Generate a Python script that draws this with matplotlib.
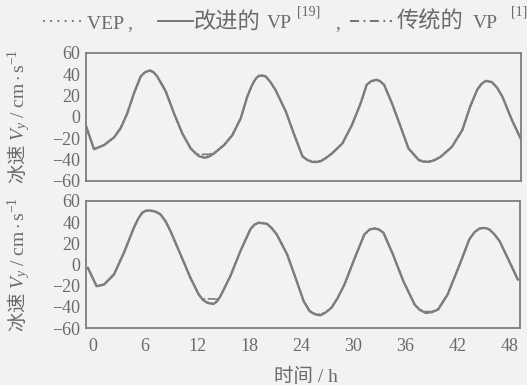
import matplotlib
matplotlib.use('Agg')
import matplotlib.pyplot as plt
from matplotlib.lines import Line2D

# fonts: serif for latin, CJK fallback for chinese
plt.rcParams['font.family'] = ['Liberation Serif', 'Noto Sans CJK SC']
plt.rcParams['mathtext.fontset'] = 'custom'
plt.rcParams['mathtext.rm'] = 'Liberation Serif'
plt.rcParams['mathtext.it'] = 'Liberation Serif:italic'
plt.rcParams['mathtext.bf'] = 'Liberation Serif:bold'

# time axis ticks (h)
x_ticks = [0, 6, 12, 18, 24, 30, 36, 42, 48]
y_ticks = [-60, -40, -20, 0, 20, 40, 60]

# upper panel
t_top = [-0.84, 0.12, 1.27, 2.42, 3.18, 3.95, 4.72, 5.49, 6.0, 6.56,
         7.0, 7.4, 8.37, 9.32, 10.28, 11.24, 11.8, 12.2, 12.85, 13.4,
         13.93, 15.08, 16.04, 17.0, 17.76, 18.2, 18.53, 18.8, 19.1, 19.5,
         19.88, 20.4, 21.0, 22.2, 23.1, 24.1, 24.6, 25.2, 25.7, 26.2,
         26.8, 27.5, 28.7, 29.8, 30.8, 31.5, 32.0, 32.6, 33.0, 33.5,
         34.4, 35.4, 36.3, 37.5, 38.0, 38.6, 39.3, 40.0, 41.3, 42.5,
         43.4, 44.2, 44.7, 45.2, 45.9, 46.5, 47.1, 48.2, 49.2]
top_vp_new = [-7.5, -30.2, -26.4, -19.2, -10.7, 3.5, 22.3, 38, 42, 43.7,
              41.8, 38, 23.9, 3.5, -15.4, -29.5, -34, -36.8, -38.3, -37,
              -34.2, -26.4, -17, -1.3, 19.2, 28, 33.3, 36.5, 38.6, 38.8,
              38, 33, 25.4, 5, -15.4, -36.8, -40, -42.1, -42.2, -41.5,
              -38.5, -34.2, -24.8, -7.5, 12.9, 30.2, 33.5, 34.9, 33.8, 30.2,
              12.9, -9.1, -29.5, -40.5, -41.8, -42.1, -40.5, -37.4, -28, -12.3,
              9.7, 25.4, 31, 33.9, 32.7, 27.5, 19.2, -2.8, -20]
top_vep = [-7.5, -30.0, -26.0, -19.0, -10.5, 3.5, 22.0, 37.5, 42, 43.5,
           41.5, 38, 24.5, 3.5, -15.0, -29.0, -33.5, -36.0, -37.5, -36.5,
           -34.0, -26.0, -16.5, -1.0, 19.0, 28, 33.0, 36.5, 38.5, 38.8,
           38, 33, 25.0, 5, -15.0, -36.5, -39.5, -41.5, -41.8, -41.0,
           -38.0, -34.0, -24.5, -7.5, 12.5, 30.0, 33.5, 34.5, 33.5, 30.0,
           12.5, -9.0, -29.0, -40.0, -41.5, -41.5, -40.0, -37.0, -27.5, -12.0,
           9.5, 25.0, 31, 33.5, 32.5, 27.5, 19.0, -2.5, -20]
top_vp_old = [-7.5, -30.2, -26.4, -19.0, -10.0, 3.5, 22.3, 38, 42, 43.7,
              41.8, 38, 25.0, 3.5, -15.4, -29.5, -34, -35, -35, -35,
              -33.5, -26.4, -17, -1.3, 19.2, 28, 33.3, 36.5, 38.6, 38.8,
              38, 33, 25.4, 5, -15.4, -36.8, -40, -42.1, -42.2, -41.5,
              -38.5, -34.2, -24.8, -7.5, 12.9, 30.2, 33.5, 34.9, 33.8, 30.2,
              12.9, -9.1, -29.5, -40.5, -41.8, -42.1, -40.5, -37.4, -28, -12.3,
              9.7, 25.4, 31, 33.9, 32.7, 27.5, 19.2, -2.8, -20]

# lower panel
t_bot = [-0.58, 0.42, 1.27, 2.42, 3.57, 4.72, 5.2, 5.68, 6.1, 6.64,
         7.2, 7.79, 8.4, 8.94, 10.1, 11.24, 12.2, 12.7, 13.2, 13.9,
         14.3, 14.7, 15.85, 17.0, 18.15, 18.6, 19.1, 20.06, 20.6, 21.2,
         22.4, 23.5, 24.3, 25.0, 25.6, 26.2, 26.8, 27.5, 28.2, 29.0,
         30.2, 31.3, 31.9, 32.5, 33.0, 33.5, 34.6, 35.8, 37.1, 37.7,
         38.4, 39.1, 39.8, 40.9, 42.3, 43.4, 44.0, 44.6, 45.2, 45.7,
         46.3, 46.9, 48.0, 49.0]
bot_vp_new = [-3.2, -20.5, -19, -9.5, 11, 34.7, 43, 48.9, 50.8, 51,
              50, 47.4, 40.5, 31.6, 9.5, -12.6, -28.4, -33.5, -36.3, -37.3,
              -35, -30, -11, 12.6, 33.2, 37.5, 39.5, 38.5, 34.5, 28.4,
              9.5, -15.8, -34.7, -44.2, -47, -48, -45.5, -41, -32, -19,
              6.3, 28.4, 33, 34.1, 33, 30, 9.5, -15.8, -37.9, -43,
              -45.8, -45, -42.6, -28.4, 0, 23.7, 30.5, 34.1, 34.5, 33.2,
              28.5, 22.1, 3.2, -14.2]
bot_vep = [-3.0, -21.0, -18.5, -9.0, 11.5, 35.0, 43, 48.5, 50.5, 50.5,
           49.5, 47.0, 40.0, 31.0, 9.0, -12.0, -28.0, -33.0, -35.5, -37.0,
           -34.5, -29.5, -10.5, 12.0, 33.0, 37.5, 39.0, 38.5, 34.5, 28.0,
           9.0, -15.5, -34.0, -43.5, -46.5, -47.0, -45.0, -40.5, -31.5, -19.0,
           6.0, 28.0, 33, 34.0, 33, 30.0, 9.0, -15.5, -37.5, -42.5,
           -45.0, -44.5, -42.0, -28.0, 0.5, 23.5, 30.5, 34.0, 34.5, 33.0,
           28.5, 22.0, 3.0, -14.0]
bot_vp_old = [-3.2, -20.5, -19, -9.5, 11, 34.7, 43, 48.9, 50.8, 51,
              50, 47.4, 40.5, 31.6, 9.5, -12.6, -28.4, -32.5, -32.5, -32.5,
              -33, -30, -11, 12.6, 33.2, 37.5, 39.5, 38.5, 34.5, 28.4,
              9.5, -15.8, -34.7, -44.2, -47, -48, -45.5, -41, -32, -19,
              6.3, 28.4, 33, 34.1, 33, 30, 9.5, -15.8, -37.9, -43,
              -44.5, -44.5, -42.6, -28.4, 0, 23.7, 30.5, 34.1, 34.5, 33.2,
              28.5, 22.1, 3.2, -14.2]

bg = '#f2f2f0'
ink = '#6a6a6a'
line_c = '#7d7d7d'
W, H = 527.0, 385.0

fig = plt.figure(figsize=(5.27, 3.85), dpi=100, facecolor=bg)
ax1 = fig.add_axes([0.1632, 0.5299, 0.8254, 0.3325])
ax2 = fig.add_axes([0.1632, 0.148, 0.8235, 0.33])

ylab = '冰速 $V_y\\ /\\ \\mathrm{cm}\\cdot\\mathrm{s}^{-1}$'

for ax, t, a, b, c in [(ax1, t_top, top_vep, top_vp_new, top_vp_old),
                       (ax2, t_bot, bot_vep, bot_vp_new, bot_vp_old)]:
    ax.set_facecolor(bg)
    ax.plot(t, b, color=line_c, lw=1.7, ls='-', solid_joinstyle='round')
    ax.plot(t, c, color=line_c, lw=1.2, ls='-.')
    ax.plot(t, a, color=line_c, lw=1.2, ls=':')
    ax.set_xlim(-0.8, 49.25)
    ax.set_ylim(-60, 60)
    ax.set_xticks(x_ticks)
    ax.set_yticks(y_ticks)
    ax.tick_params(length=0, labelsize=13, labelcolor=ink)
    ax.tick_params(axis='y', pad=4)
    ax.tick_params(axis='x', pad=7)
    for s in ax.spines.values():
        s.set_color(line_c)
        s.set_linewidth(1.3)
    ax.set_ylabel(ylab, fontsize=14, color=ink, family='Noto Sans CJK SC')
    ax.yaxis.set_label_coords(-0.125, 0.5)

ax1.set_xticklabels([])
ax2.set_xlabel('时间 / h', fontsize=14, color=ink)
ax2.xaxis.set_label_coords(0.506, -0.31)

# legend line on top: keys + text pieces
ky = 1 - 21 / H
ty = 1 - 28 / H
sy = 1 - 16 / H
fig.add_artist(Line2D([43 / W, 85 / W], [ky, ky], transform=fig.transFigure,
                      color=ink, lw=1.3, ls=(0, (1, 3))))
fig.add_artist(Line2D([158 / W, 193 / W], [ky, ky], transform=fig.transFigure,
                      color=ink, lw=1.3, ls='-'))
fig.add_artist(Line2D([350 / W, 392 / W], [ky, ky], transform=fig.transFigure,
                      color=ink, lw=1.3, ls=(0, (5, 2.5, 1, 2.5))))
fig.text(87 / W, ty, 'VEP ,', fontsize=14, color=ink, va='baseline')
fig.text(194 / W, ty, '改进的', fontsize=16, color=ink, va='baseline')
fig.text(267 / W, ty, 'VP', fontsize=14, color=ink, va='baseline')
fig.text(297 / W, sy, '[19]', fontsize=10, color=ink, va='baseline')
fig.text(335 / W, ty, ',', fontsize=14, color=ink, va='baseline')
fig.text(397 / W, ty, '传统的', fontsize=16, color=ink, va='baseline')
fig.text(473 / W, ty, 'VP', fontsize=14, color=ink, va='baseline')
fig.text(511 / W, sy, '[1]', fontsize=10, color=ink, va='baseline')

fig.savefig('out.png', dpi=100, facecolor=bg)
